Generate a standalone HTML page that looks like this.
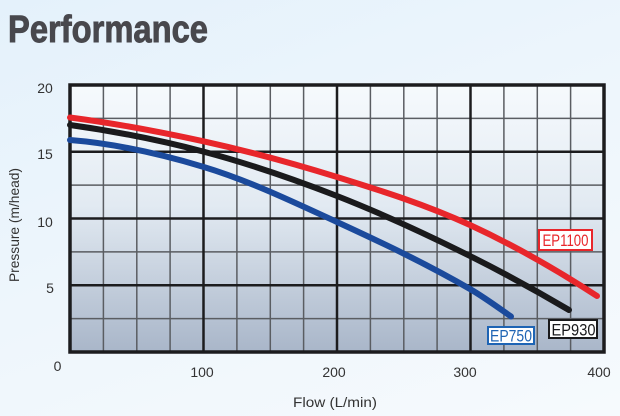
<!DOCTYPE html>
<html><head><meta charset="utf-8"><style>
html,body{margin:0;padding:0;}
body{width:620px;height:416px;overflow:hidden;background:linear-gradient(160deg,#e4f1fb 0%,#eef6fc 50%,#f6fafd 100%);}
svg{display:block;}
text{font-family:"Liberation Sans",sans-serif;}
</style></head><body>
<svg width="620" height="416" viewBox="0 0 620 416" xmlns="http://www.w3.org/2000/svg">
<defs>
<linearGradient id="pf" x1="0" y1="0" x2="0" y2="1">
<stop offset="0" stop-color="#f6fafd"/>
<stop offset="0.45" stop-color="#e2eaf2"/>
<stop offset="1" stop-color="#a9b6c9"/>
</linearGradient>
</defs>
<text x="8" y="42" font-size="38" font-weight="bold" fill="#48484d" stroke="#48484d" stroke-width="0.9" textLength="200" lengthAdjust="spacingAndGlyphs">Performance</text>
<rect x="70" y="85" width="534" height="267" fill="url(#pf)"/>
<g stroke="#5a5d62" stroke-width="1.5">
<line x1="103.4" y1="85" x2="103.4" y2="352"/>
<line x1="136.8" y1="85" x2="136.8" y2="352"/>
<line x1="170.1" y1="85" x2="170.1" y2="352"/>
<line x1="236.9" y1="85" x2="236.9" y2="352"/>
<line x1="270.3" y1="85" x2="270.3" y2="352"/>
<line x1="303.6" y1="85" x2="303.6" y2="352"/>
<line x1="370.4" y1="85" x2="370.4" y2="352"/>
<line x1="403.8" y1="85" x2="403.8" y2="352"/>
<line x1="437.1" y1="85" x2="437.1" y2="352"/>
<line x1="503.9" y1="85" x2="503.9" y2="352"/>
<line x1="537.3" y1="85" x2="537.3" y2="352"/>
<line x1="570.6" y1="85" x2="570.6" y2="352"/>
<line x1="70" y1="318.6" x2="604" y2="318.6"/>
<line x1="70" y1="251.9" x2="604" y2="251.9"/>
<line x1="70" y1="185.1" x2="604" y2="185.1"/>
<line x1="70" y1="118.4" x2="604" y2="118.4"/>
</g>
<g stroke="#1c1c1e" stroke-width="2.5">
<line x1="203.5" y1="85" x2="203.5" y2="352"/>
<line x1="337" y1="85" x2="337" y2="352"/>
<line x1="470.5" y1="85" x2="470.5" y2="352"/>
<line x1="70" y1="285.3" x2="604" y2="285.3"/>
<line x1="70" y1="218.5" x2="604" y2="218.5"/>
<line x1="70" y1="151.8" x2="604" y2="151.8"/>
</g>
<rect x="70" y="85" width="534" height="267" fill="none" stroke="#1c1c1e" stroke-width="3.5"/>
<g fill="none" stroke-width="6" stroke-linecap="round" stroke-linejoin="round">
<path stroke="#e8262b" d="M70,117.5 C114.3,123.3 158.7,131.5 203,141.2 C247.7,151 292.3,163.1 337,177 C381.3,190.7 425.7,204.6 470,225 C512.3,244.5 554.7,268.5 597,296"/>
<path stroke="#1a1a1c" d="M70,125 C114.3,131.2 158.7,139.8 203,151.5 C247.7,163.3 292.3,178.6 337,196 C381.3,213.3 425.7,233.9 470,256 C503,272.5 536,290.5 569,310"/>
<path stroke="#1b4a9c" d="M70,140 C114.3,143.5 158.7,153.4 203,166.7 C247.7,180.1 292.3,201.4 337,222 C381.3,242.4 425.7,263.3 470,289 C483.7,296.9 497.3,306.9 511,316.5"/>
</g>
<rect x="539" y="230" width="53" height="20" fill="#fff" stroke="#e8262b" stroke-width="2"/>
<text x="542.5" y="246" font-size="16.5" fill="#e8262b" textLength="46" lengthAdjust="spacingAndGlyphs">EP1100</text>
<rect x="549" y="320" width="48" height="18" fill="#fff" stroke="#1a1a1c" stroke-width="2"/>
<text x="551.5" y="335.5" font-size="16.5" fill="#1a1a1c" textLength="44" lengthAdjust="spacingAndGlyphs">EP930</text>
<rect x="488" y="327" width="46" height="17" fill="#fff" stroke="#1e64b4" stroke-width="2"/>
<text x="490" y="341.5" font-size="16.5" fill="#1e64b4" textLength="42" lengthAdjust="spacingAndGlyphs">EP750</text>
<g font-size="14" fill="#333" text-anchor="middle">
<text x="45" y="93">20</text>
<text x="45" y="159">15</text>
<text x="45" y="227">10</text>
<text x="50" y="293">5</text>
<text x="57.5" y="371">0</text>
<text x="202" y="377">100</text>
<text x="334" y="377">200</text>
<text x="465" y="377">300</text>
<text x="599" y="377">400</text>
<text x="335" y="407" textLength="84" lengthAdjust="spacingAndGlyphs">Flow (L/min)</text>
<text transform="translate(19,225) rotate(-90)" textLength="114" lengthAdjust="spacingAndGlyphs">Pressure (m/head)</text>
</g>
</svg>
</body></html>
